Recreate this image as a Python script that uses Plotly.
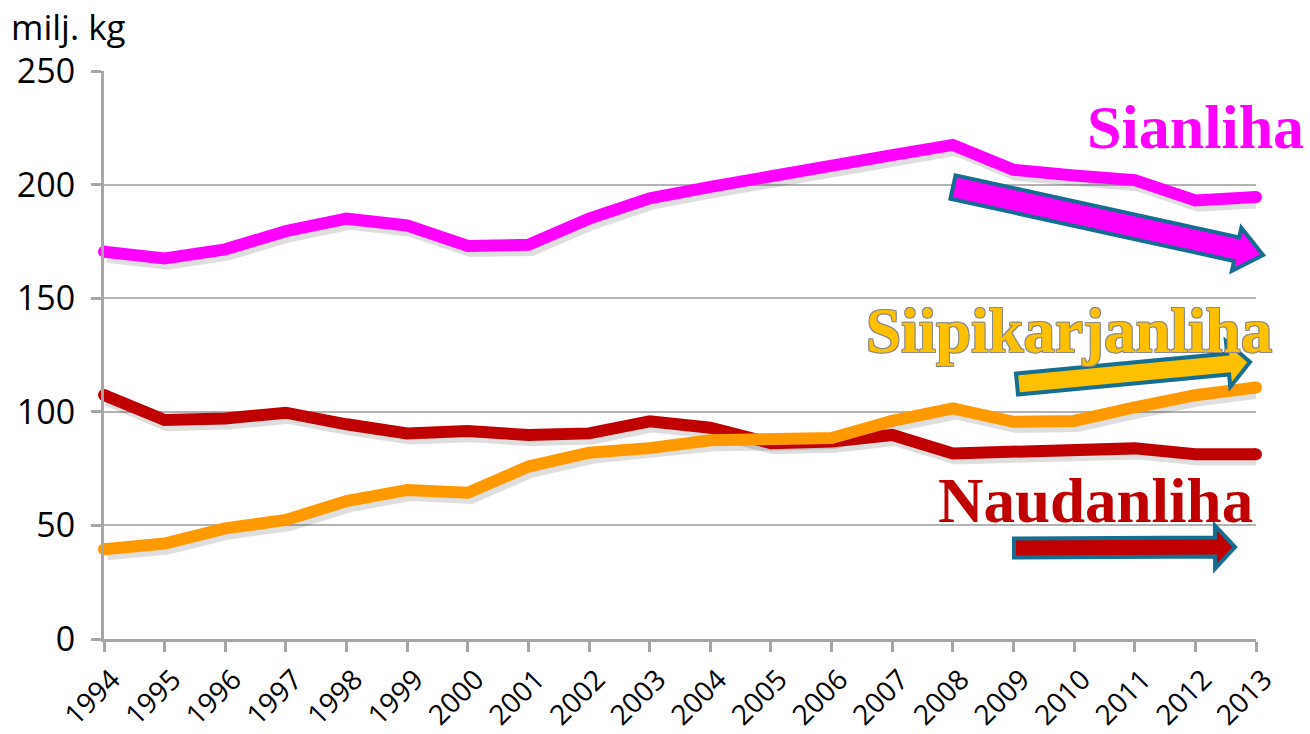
import math
import plotly.graph_objects as go

# ---- data ----
years = list(range(1994, 2014))
sianliha = [170.5, 167.5, 171.5, 179.5, 185, 182, 173, 173.5, 185, 194,
            199, 204, 208.5, 213, 217.5, 206.5, 204, 202, 193, 194.5]
siipikarjanliha = [39.5, 42, 48.7, 52.4, 60.7, 65.6, 64.4, 75.9, 82, 84,
                   87.5, 87.8, 88.5, 96, 101.5, 95.6, 96, 102, 107.3, 110.7]
naudanliha = [107.4, 96.4, 97.1, 99.6, 94.5, 90.5, 91.5, 89.8, 90.5, 95.8,
              93, 86.2, 86.9, 89.8, 81.7, 82, 82.9, 83.9, 81.3, 81.3]
y_ticks = [0, 50, 100, 150, 200, 250]
y_unit = "milj. kg"
series_names = ["Sianliha", "Siipikarjanliha", "Naudanliha"]

# ---- layout geometry (pixels) ----
W, H = 1310, 734
L, R, T, B = 104, 1256, 71, 639
PW, PH = R - L, B - T

MAGENTA = "#FF00FF"
ORANGE = "#FF9900"
DARKRED = "#C00000"
GOLD = "#FFC000"
TEAL = "#136E92"
GRID = "#B3B3B3"
AXIS = "#A6A6A6"


def to_paper(x, y):
    return ((x - L) / PW, (B - y) / PH)


def arrow_path(tail, tip, sw, hw, hl):
    tx, ty = tail
    px, py = tip
    dx, dy = px - tx, py - ty
    ln = math.hypot(dx, dy)
    ux, uy = dx / ln, dy / ln
    nx, ny = -uy, ux
    bx, by = px - ux * hl, py - uy * hl
    pts = [
        (tx + nx * sw / 2, ty + ny * sw / 2),
        (bx + nx * sw / 2, by + ny * sw / 2),
        (bx + nx * hw / 2, by + ny * hw / 2),
        (px, py),
        (bx - nx * hw / 2, by - ny * hw / 2),
        (bx - nx * sw / 2, by - ny * sw / 2),
        (tx - nx * sw / 2, ty - ny * sw / 2),
    ]
    pp = [to_paper(x, y) for x, y in pts]
    return "M " + " L ".join(f"{x:.5f},{y:.5f}" for x, y in pp) + " Z"


fig = go.Figure()

# drop shadows of lines
for vals in [naudanliha, siipikarjanliha, sianliha]:
    fig.add_trace(go.Scatter(
        x=[y + 0.05 for y in years], y=[v - 1.6 for v in vals],
        mode="lines", line=dict(color="rgba(0,0,0,0.13)", width=15),
        hoverinfo="skip", showlegend=False))

for name, vals, col in [("Naudanliha", naudanliha, DARKRED),
                        ("Siipikarjanliha", siipikarjanliha, ORANGE),
                        ("Sianliha", sianliha, MAGENTA)]:
    fig.add_trace(go.Scatter(
        x=years, y=vals, mode="lines", name=name,
        line=dict(color=col, width=12),
        hoverinfo="skip", showlegend=False, cliponaxis=False))
    # rounded ends
    fig.add_trace(go.Scatter(
        x=[years[0], years[-1]], y=[vals[0], vals[-1]], mode="markers",
        marker=dict(color=col, size=12, line=dict(width=0)),
        hoverinfo="skip", showlegend=False, cliponaxis=False))

# arrows
shapes = []
for tail, tip, sw, hw, hl, col in [
    ((953, 187), (1263, 255), 24, 44, 27, MAGENTA),
    ((1017, 384), (1250, 362), 21, 46, 22, GOLD),
    ((1014, 548), (1235, 547), 19, 43, 20, DARKRED),
]:
    shapes.append(dict(type="path", xref="paper", yref="paper",
                       path=arrow_path(tail, tip, sw, hw, hl),
                       fillcolor=col, line=dict(color=TEAL, width=4),
                       layer="above"))

annotations = []
serif = "Liberation Serif"
ax, ay = to_paper(1195, 127)
annotations.append(dict(xref="paper", yref="paper", x=ax, y=ay,
                        text="<b>Sianliha</b>", showarrow=False,
                        xanchor="center", yanchor="middle",
                        font=dict(family=serif, size=62, color=MAGENTA)))
ax, ay = to_paper(1069, 331)
annotations.append(dict(xref="paper", yref="paper", x=ax, y=ay,
                        text="<b>Siipikarjanliha</b>", showarrow=False,
                        xanchor="center", yanchor="middle",
                        font=dict(family=serif, size=63, color=GOLD,
                                  shadow="1px 1px 0 #8a8a8a, -1px -1px 0 #8a8a8a, "
                                         "1px -1px 0 #8a8a8a, -1px 1px 0 #8a8a8a")))
ax, ay = to_paper(1095, 501)
annotations.append(dict(xref="paper", yref="paper", x=ax, y=ay,
                        text="<b>Naudanliha</b>", showarrow=False,
                        xanchor="center", yanchor="middle",
                        font=dict(family=serif, size=63, color=DARKRED)))
ax, ay = to_paper(9, 26)
annotations.append(dict(xref="paper", yref="paper", x=ax, y=ay,
                        text=y_unit, showarrow=False,
                        xanchor="left", yanchor="middle",
                        font=dict(family="Open Sans", size=35, color="black")))

fig.update_layout(
    width=W, height=H,
    margin=dict(l=L, r=W - R, t=T, b=H - B, pad=0, autoexpand=False),
    paper_bgcolor="white", plot_bgcolor="white",
    font=dict(family="Open Sans", color="black"),
    shapes=shapes, annotations=annotations,
    xaxis=dict(
        range=[years[0], years[-1]], tickmode="array", tickvals=years,
        ticktext=[str(y) for y in years], tickangle=-45,
        tickfont=dict(size=28, family="Open Sans"),
        ticklabelshift=8,
        showgrid=False, zeroline=False, automargin=False,
        showline=True, linecolor=AXIS, linewidth=3,
        ticks="outside", ticklen=10, tickwidth=3, tickcolor=AXIS,
        fixedrange=True),
    yaxis=dict(
        range=[0, 250], tickmode="array", tickvals=y_ticks,
        tickfont=dict(size=34, family="Open Sans"),
        showgrid=True, gridcolor=GRID, gridwidth=1.5, zeroline=False,
        automargin=False,
        showline=True, linecolor=AXIS, linewidth=3,
        ticks="outside", ticklen=10, tickwidth=3, tickcolor=AXIS,
        ticklabelstandoff=9, fixedrange=True),
)

fig.write_html("out.html", config={"displayModeBar": False},
               post_script="document.body.style.margin='0';"
                           "document.body.style.overflow='hidden';")
